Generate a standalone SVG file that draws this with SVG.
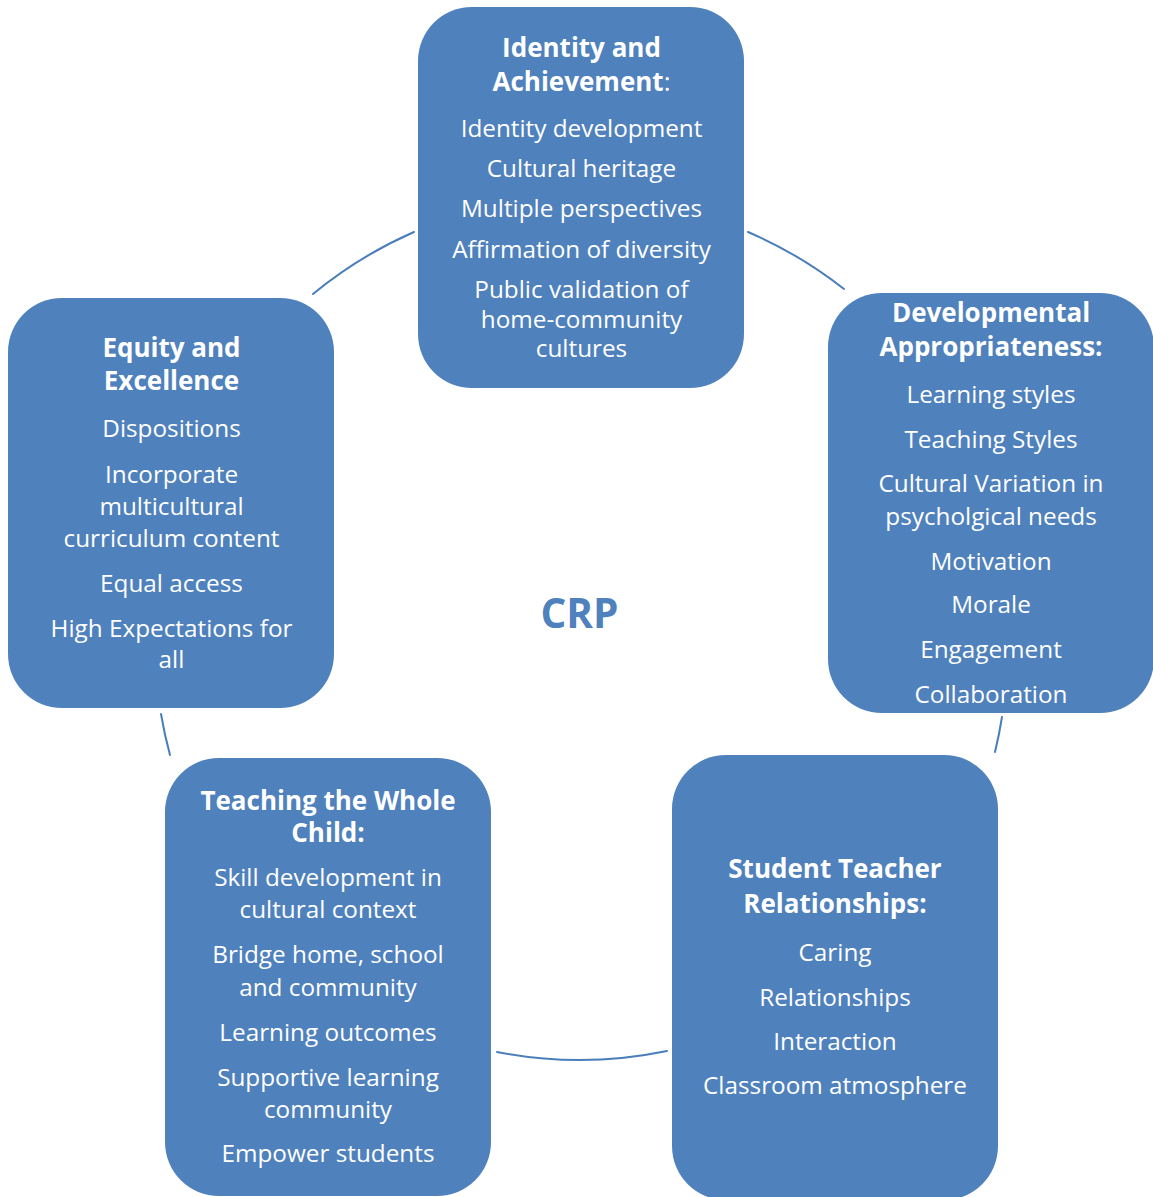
<svg xmlns="http://www.w3.org/2000/svg" width="1153" height="1197" viewBox="0 0 1153 1197">
  <style>
    .box { fill: #4F81BD; }
    .t { font-family: "Open Sans", "Noto Sans", "DejaVu Sans", sans-serif; fill: #FFFFFF; text-anchor: middle; font-size: 24.3px; }
    .h { font-weight: bold; font-size: 26px; }
    .n { font-weight: normal; }
    .link { fill: none; stroke: #4A7EBB; stroke-width: 2; stroke-linecap: round; }
    .center { font-family: "Open Sans", "Noto Sans", "DejaVu Sans", sans-serif; font-weight: bold; font-size: 40.5px; fill: #4F81BD; text-anchor: middle; }
  </style>
  <rect width="1153" height="1197" fill="#FFFFFF"/>

  <!-- cycle arcs on a circle centred at (581.5, 629), r = 430 -->
  <g id="connectors">
    <path class="link" d="M313,294 A430,430 0 0 1 414,232"/>
    <path class="link" d="M748,232 A430,430 0 0 1 844,289"/>
    <path class="link" d="M1002,717 A430,430 0 0 1 995,752"/>
    <path class="link" d="M667,1051 A430,430 0 0 1 497,1052"/>
    <path class="link" d="M170,755 A430,430 0 0 1 161,714"/>
  </g>

  <text id="center-label" class="center" x="579.5" y="628">CRP</text>

  <g id="identity-achievement">
    <rect class="box" x="418" y="7" width="326" height="381" rx="54" ry="54"/>
    <text class="t h" x="581.5" y="57">Identity and</text>
    <text class="t h" x="581.5" y="91">Achievement<tspan class="n">:</tspan></text>
    <text class="t" x="581.5" y="137">Identity development</text>
    <text class="t" x="581.5" y="177">Cultural heritage</text>
    <text class="t" x="581.5" y="217">Multiple perspectives</text>
    <text class="t" x="581.5" y="258">Affirmation of diversity</text>
    <text class="t" x="581.5" y="298">Public validation of</text>
    <text class="t" x="581.5" y="328">home-community</text>
    <text class="t" x="581.5" y="357">cultures</text>
  </g>

  <g id="developmental-appropriateness">
    <rect class="box" x="828" y="293" width="326" height="420" rx="54" ry="54"/>
    <text class="t h" x="991" y="322">Developmental</text>
    <text class="t h" x="991" y="356">Appropriateness:</text>
    <text class="t" x="991" y="403">Learning styles</text>
    <text class="t" x="991" y="448">Teaching Styles</text>
    <text class="t" x="991" y="492">Cultural Variation in</text>
    <text class="t" x="991" y="525">psycholgical needs</text>
    <text class="t" x="991" y="570">Motivation</text>
    <text class="t" x="991" y="613">Morale</text>
    <text class="t" x="991" y="658">Engagement</text>
    <text class="t" x="991" y="703">Collaboration</text>
  </g>

  <g id="student-teacher-relationships">
    <rect class="box" x="672" y="755" width="326" height="445" rx="54" ry="54"/>
    <text class="t h" x="835" y="878">Student Teacher</text>
    <text class="t h" x="835" y="913">Relationships:</text>
    <text class="t" x="835" y="961">Caring</text>
    <text class="t" x="835" y="1006">Relationships</text>
    <text class="t" x="835" y="1050">Interaction</text>
    <text class="t" x="835" y="1094">Classroom atmosphere</text>
  </g>

  <g id="teaching-whole-child">
    <rect class="box" x="165" y="758" width="326" height="438" rx="54" ry="54"/>
    <text class="t h" x="328" y="810">Teaching the Whole</text>
    <text class="t h" x="328" y="842">Child:</text>
    <text class="t" x="328" y="886">Skill development in</text>
    <text class="t" x="328" y="918">cultural context</text>
    <text class="t" x="328" y="963">Bridge home, school</text>
    <text class="t" x="328" y="996">and community</text>
    <text class="t" x="328" y="1041">Learning outcomes</text>
    <text class="t" x="328" y="1086">Supportive learning</text>
    <text class="t" x="328" y="1118">community</text>
    <text class="t" x="328" y="1162">Empower students</text>
  </g>

  <g id="equity-excellence">
    <rect class="box" x="8" y="298" width="326" height="410" rx="54" ry="54"/>
    <text class="t h" x="171.5" y="357">Equity and</text>
    <text class="t h" x="171.5" y="390">Excellence</text>
    <text class="t" x="171.5" y="437">Dispositions</text>
    <text class="t" x="171.5" y="483">Incorporate</text>
    <text class="t" x="171.5" y="515">multicultural</text>
    <text class="t" x="171.5" y="547">curriculum content</text>
    <text class="t" x="171.5" y="592">Equal access</text>
    <text class="t" x="171.5" y="637">High Expectations for</text>
    <text class="t" x="171.5" y="668">all</text>
  </g>
</svg>
